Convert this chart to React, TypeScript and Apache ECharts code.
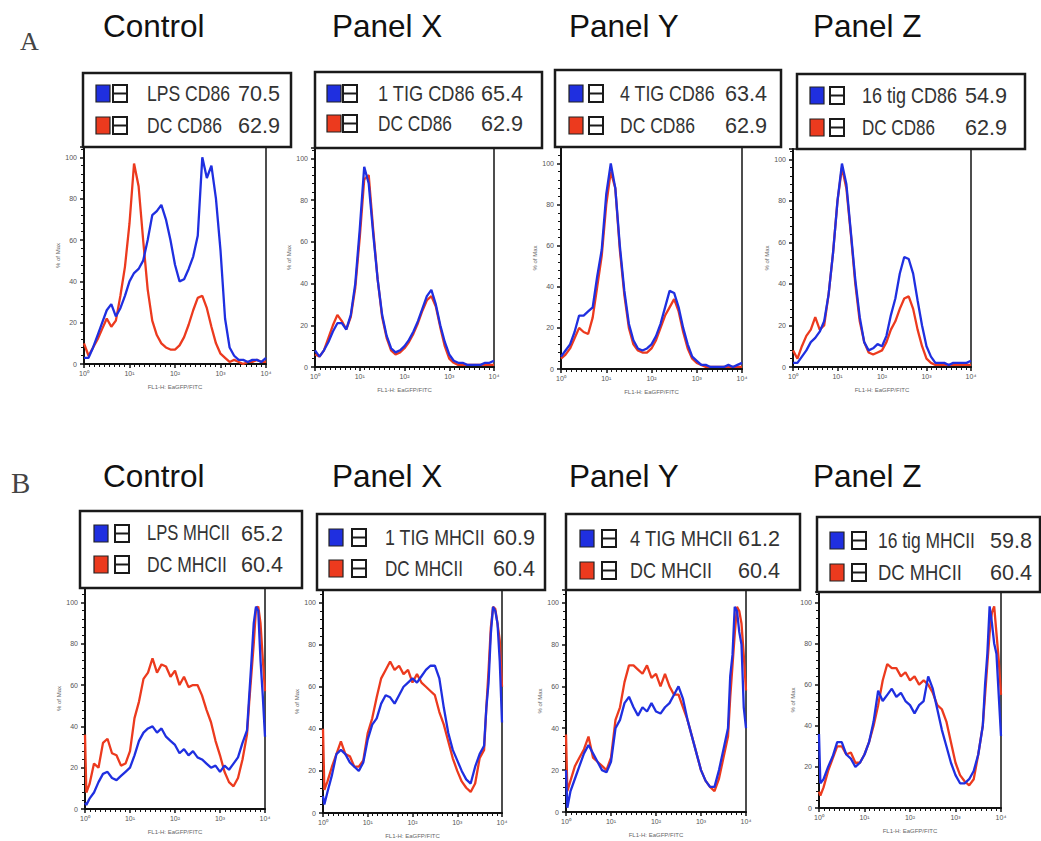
import React, { useEffect, useRef } from 'react';
import * as echarts from 'echarts';

// x positions in decades (log10 of FL1-H intensity)
const XA = [0,0.1,0.2,0.3,0.4,0.5,0.6,0.7,0.8,0.9,1.0,1.1,1.2,1.3,1.4,1.5,1.6,1.7,1.8,1.9,2.0,2.1,2.2,2.3,2.4,2.5,2.6,2.7,2.8,2.9,3.0,3.1,3.2,3.3,3.4,3.5,3.6,3.7,3.8,3.9,4.0];
const XB = [0,0.03,0.1,0.2,0.3,0.4,0.5,0.6,0.7,0.8,0.9,1.0,1.1,1.2,1.3,1.4,1.5,1.6,1.7,1.8,1.9,2.0,2.1,2.2,2.3,2.4,2.5,2.6,2.7,2.8,2.9,3.0,3.1,3.2,3.3,3.4,3.5,3.6,3.65,3.7,3.75,3.8,3.85,3.9,3.95,4.0];

// Row A: CD86 (% of max)
const CD86_CONTROL_SAMPLE = [3,3,8,14,20,26,29,23,27,33,40,44,46,50,60,72,74,77,70,60,48,40,41,46,52,62,100,90,96,80,55,22,8,4,2,2,1,2,2,1,3];
const CD86_CONTROL_DC = [10,4,8,12,17,22,18,21,33,47,68,97,86,60,36,21,14,10,8,7,7,9,13,19,26,32,33,27,18,10,5,3,1,2,1,0,1,1,2,1,1];
const CD86_X_SAMPLE = [8,5,8,12,17,21,21,18,25,40,66,96,88,64,42,25,15,9,7,8,10,13,17,22,28,34,37,30,20,12,6,3,2,2,1,1,1,1,2,2,3];
const CD86_X_DC = [6,5,8,14,20,25,22,18,24,38,62,90,92,66,42,24,14,8,6,7,9,12,16,21,27,32,34,29,19,10,4,2,1,1,1,1,1,1,1,1,1];
const CD86_Y_SAMPLE = [6,9,12,18,26,26,28,30,45,58,85,100,88,60,38,22,14,10,9,10,12,16,22,30,38,37,30,20,12,6,4,2,2,1,1,1,1,2,1,2,3];
const CD86_Y_DC = [5,7,10,15,20,18,17,25,40,55,80,96,88,58,36,20,12,9,8,8,10,14,20,26,30,34,28,18,10,5,3,2,1,1,1,1,1,1,1,1,1];
const CD86_Z_SAMPLE = [2,2,5,8,12,14,17,22,35,55,80,98,88,65,42,24,12,8,9,11,10,15,25,33,45,53,52,45,32,20,10,5,2,2,2,1,2,2,2,2,3];
const CD86_Z_DC = [8,4,10,15,18,24,18,20,35,55,80,96,86,64,40,22,12,7,6,7,8,12,18,22,28,33,34,28,18,10,4,2,1,1,1,1,1,1,1,1,1];

// Row B: MHCII (% of max)
const MHCII_CONTROL_SAMPLE = [3,2,5,8,13,17,18,15,14,16,18,20,26,33,37,39,40,37,39,35,33,31,27,29,26,28,25,24,22,20,21,18,21,19,22,25,32,38,55,72,90,98,96,72,55,35];
const MHCII_CONTROL_DC = [36,8,12,22,20,32,34,27,26,21,22,28,44,52,63,66,73,66,70,69,64,67,60,64,59,60,60,55,48,42,33,26,18,13,11,15,24,36,52,66,80,97,98,90,73,57];
const MHCII_X_SAMPLE = [8,4,10,18,28,30,28,24,22,20,24,35,42,45,52,56,55,52,56,60,62,64,62,65,68,70,70,64,50,38,30,25,20,16,14,22,28,32,50,62,85,98,96,90,72,43];
const MHCII_X_DC = [40,11,15,22,28,34,28,27,22,22,25,38,45,55,64,68,72,68,70,66,68,62,66,62,60,58,56,48,42,34,26,20,15,12,10,14,26,30,50,68,88,98,97,90,82,60];
const MHCII_Y_SAMPLE = [20,2,10,16,22,28,32,28,24,20,19,24,40,44,52,55,50,46,50,48,52,48,47,50,52,56,60,54,44,36,28,20,15,12,12,20,30,40,65,75,98,96,86,80,50,40];
const MHCII_Y_DC = [37,10,15,22,26,30,36,26,24,22,20,26,44,50,62,70,70,68,66,70,64,66,60,66,60,56,56,50,44,36,28,20,15,12,10,16,26,36,55,70,85,98,96,90,75,58];
const MHCII_Z_SAMPLE = [36,12,14,20,25,32,32,26,24,20,22,26,32,42,57,52,55,58,54,56,52,50,46,50,52,64,58,48,38,30,22,16,12,12,14,18,26,40,60,75,98,90,80,75,55,35];
const MHCII_Z_DC = [8,6,10,18,24,30,30,26,27,22,22,26,32,40,50,62,70,68,68,64,66,62,64,60,62,60,56,50,48,42,32,22,16,13,11,14,26,40,55,70,85,95,98,85,72,55];

const PANEL_TITLES = ['Control', 'Panel X', 'Panel Y', 'Panel Z'];
const SAMPLE_NAMES = ['LPS CD86', '1 TIG CD86', '4 TIG CD86', '16 tig CD86', 'LPS MHCII', '1 TIG MHCII', '4 TIG MHCII', '16 tig MHCII'];
const SAMPLE_VALUES = ['70.5', '65.4', '63.4', '54.9', '65.2', '60.9', '61.2', '59.8'];
const DC_NAMES = ['DC CD86', 'DC CD86', 'DC CD86', 'DC CD86', 'DC MHCII', 'DC MHCII', 'DC MHCII', 'DC MHCII'];
const DC_VALUES = ['62.9', '62.9', '62.9', '62.9', '60.4', '60.4', '60.4', '60.4'];
const X_TICK_LABELS = ['10⁰', '10¹', '10²', '10³', '10⁴'];
const X_AXIS_NAME = 'FL1-H: EaGFP/FITC';
const Y_AXIS_NAME = '% of Max';

const SERIES_SAMPLE = [CD86_CONTROL_SAMPLE, CD86_X_SAMPLE, CD86_Y_SAMPLE, CD86_Z_SAMPLE, MHCII_CONTROL_SAMPLE, MHCII_X_SAMPLE, MHCII_Y_SAMPLE, MHCII_Z_SAMPLE];
const SERIES_DC = [CD86_CONTROL_DC, CD86_X_DC, CD86_Y_DC, CD86_Z_DC, MHCII_CONTROL_DC, MHCII_X_DC, MHCII_Y_DC, MHCII_Z_DC];

// layout (pixels): grid [left, top, width, height], legend box, icon x, text x, widths, value right edge
const LAYOUT = [
  { grid: [84, 147, 182, 217], yMax: 105, box: [83, 73, 208, 74], sq: 96, ol: 113, tx: 147, w1: 83, w2: 75, vr: 280, r1: 93, r2: 125 },
  { grid: [315, 148, 179, 219], yMax: 105, box: [315, 72, 227, 76], sq: 327, ol: 343, tx: 378, w1: 97, w2: 74, vr: 523, r1: 93, r2: 123 },
  { grid: [561, 147, 181, 222], yMax: 108, box: [555, 70, 226, 77], sq: 569, ol: 589, tx: 620, w1: 95, w2: 75, vr: 767, r1: 93, r2: 125 },
  { grid: [793, 149, 178, 218], yMax: 105, box: [797, 74, 228, 75], sq: 810, ol: 830, tx: 862, w1: 95, w2: 73, vr: 1007, r1: 95, r2: 127 },
  { grid: [85, 588, 180, 221], yMax: 107, box: [80, 511, 222, 77], sq: 94, ol: 115, tx: 147, w1: 83, w2: 80, vr: 283, r1: 533, r2: 564 },
  { grid: [323, 590, 179, 223], yMax: 106, box: [317, 514, 228, 76], sq: 329, ol: 352, tx: 385, w1: 100, w2: 78, vr: 535, r1: 537, r2: 568 },
  { grid: [566, 590, 180, 222], yMax: 106, box: [566, 514, 234, 76], sq: 580, ol: 602, tx: 630, w1: 103, w2: 82, vr: 780, r1: 538, r2: 570 },
  { grid: [819, 592, 182, 216], yMax: 105, box: [817, 517, 223, 75], sq: 830, ol: 852, tx: 878, w1: 97, w2: 84, vr: 1032, r1: 540, r2: 572 },
];
const TITLE_X = [103, 332, 569, 813];
const TITLE_Y = [26, 476];
const VALUE_W = 42;

const BLUE = '#1f2fe0';
const RED = '#ec3a1e';
const SANS = '"Liberation Sans", Arial, sans-serif';
const SERIF = '"Liberation Serif", "DejaVu Serif", serif';

let measureCtx: CanvasRenderingContext2D | null = null;
function measure(text: string, size: number, family: string) {
  if (!measureCtx) measureCtx = document.createElement('canvas').getContext('2d');
  if (!measureCtx) return text.length * size * 0.55;
  measureCtx.font = `${size}px ${family}`;
  return measureCtx.measureText(text).width;
}

function txt(x: number, y: number, text: string, size: number, fill: string, extra: any = {}) {
  const { family, align, ...rest } = extra;
  const a = align || 'left';
  return {
    type: 'text', x, y, silent: true, ...rest,
    style: { text, fontSize: size, fontFamily: family || SANS, fill, align: a, textAlign: a, verticalAlign: 'middle', textVerticalAlign: 'middle' },
  };
}

export default function App() {
  const ref = useRef<HTMLDivElement>(null);
  useEffect(() => {
    const chart = echarts.init(ref.current!, null, { renderer: 'svg' });
    const grids: any[] = [];
    const xAxes: any[] = [];
    const yAxes: any[] = [];
    const series: any[] = [];
    const graphics: any[] = [];
    const LS = 18;

    LAYOUT.forEach((L, i) => {
      const xs = i < 4 ? XA : XB;
      grids.push({ left: L.grid[0], top: L.grid[1], width: L.grid[2], height: L.grid[3], show: true, borderColor: '#151515', borderWidth: 1.5, backgroundColor: '#fff' });
      xAxes.push({
        type: 'value', gridIndex: i, min: 0, max: 4, interval: 1,
        name: X_AXIS_NAME, nameLocation: 'middle', nameGap: 20,
        nameTextStyle: { fontSize: 6, color: '#666', fontFamily: SANS },
        axisLine: { show: true, lineStyle: { color: '#111', width: 2 } },
        axisTick: { show: true, length: 4, lineStyle: { color: '#111', width: 1.5 } },
        minorTick: { show: true, splitNumber: 9, length: 3, lineStyle: { color: '#111', width: 1 } },
        axisLabel: { fontSize: 7, color: '#555', margin: 6, formatter: (v: number) => X_TICK_LABELS[Math.round(v)] ?? '' },
        splitLine: { show: false },
      });
      yAxes.push({
        type: 'value', gridIndex: i, min: 0, max: L.yMax, interval: 20,
        name: Y_AXIS_NAME, nameLocation: 'middle', nameGap: 22,
        nameTextStyle: { fontSize: 6, color: '#666', fontFamily: SANS },
        axisLine: { show: true, lineStyle: { color: '#111', width: 2 } },
        axisTick: { show: true, length: 4, lineStyle: { color: '#111', width: 1.5 } },
        minorTick: { show: true, splitNumber: 5, length: 3, lineStyle: { color: '#111', width: 1 } },
        axisLabel: { fontSize: 7, color: '#555', margin: 7, formatter: (v: number) => (v % 20 === 0 ? String(v) : '') },
        splitLine: { show: false },
      });
      series.push({
        type: 'line', xAxisIndex: i, yAxisIndex: i, showSymbol: false, silent: true, z: 2,
        lineStyle: { color: RED, width: 2.3 }, itemStyle: { color: RED },
        data: xs.map((x, k) => [x, SERIES_DC[i][k]]),
      });
      series.push({
        type: 'line', xAxisIndex: i, yAxisIndex: i, showSymbol: false, silent: true, z: 3,
        lineStyle: { color: BLUE, width: 2.3 }, itemStyle: { color: BLUE },
        data: xs.map((x, k) => [x, SERIES_SAMPLE[i][k]]),
      });

      // legend box
      const [bx, by, bw, bh] = L.box;
      graphics.push({ type: 'rect', shape: { x: bx, y: by, width: bw, height: bh }, style: { fill: '#fff', stroke: '#1a1a1a', lineWidth: 2.5 }, z: 10 });
      const rows: any[] = [
        [L.r1, BLUE, SAMPLE_NAMES[i], SAMPLE_VALUES[i], L.w1],
        [L.r2, RED, DC_NAMES[i], DC_VALUES[i], L.w2],
      ];
      rows.forEach(([ry, col, name, val, w]) => {
        graphics.push({ type: 'rect', shape: { x: L.sq, y: ry - 8, width: 14, height: 17 }, style: { fill: col, stroke: '#222', lineWidth: 1.2 }, z: 11 });
        graphics.push({ type: 'rect', shape: { x: L.ol, y: ry - 8, width: 14, height: 17 }, style: { fill: '#fff', stroke: '#1a1a1a', lineWidth: 2 }, z: 11 });
        graphics.push({ type: 'line', shape: { x1: L.ol, y1: ry + 0.5, x2: L.ol + 14, y2: ry + 0.5 }, style: { stroke: '#1a1a1a', lineWidth: 2 }, z: 12 });
        const sx = w / measure(name, LS, SANS);
        graphics.push({ ...txt(L.tx, ry, name, LS, '#333', { scaleX: sx, scaleY: 1.2 }), z: 12 });
        const vx = VALUE_W / measure(val, LS, SANS);
        graphics.push({ ...txt(L.vr, ry, val, LS, '#333', { scaleX: vx, scaleY: 1.2, align: 'right' }), z: 12 });
      });
    });

    TITLE_Y.forEach((ty) => {
      PANEL_TITLES.forEach((t, j) => graphics.push({ ...txt(TITLE_X[j], ty, t, 31.5, '#111'), z: 12 }));
    });
    graphics.push({ ...txt(20, 41, 'A', 26, '#444', { family: SERIF }), z: 12 });
    graphics.push({ ...txt(11, 483, 'B', 29, '#444', { family: SERIF }), z: 12 });

    chart.setOption({
      animation: false,
      backgroundColor: '#fff',
      textStyle: { fontFamily: SANS },
      grid: grids,
      xAxis: xAxes,
      yAxis: yAxes,
      series,
      graphic: { elements: graphics },
    });
    return () => chart.dispose();
  }, []);
  return <div ref={ref} style={{ position: 'absolute', left: 0, top: 0, width: 1041, height: 841, background: '#fff' }} />;
}
